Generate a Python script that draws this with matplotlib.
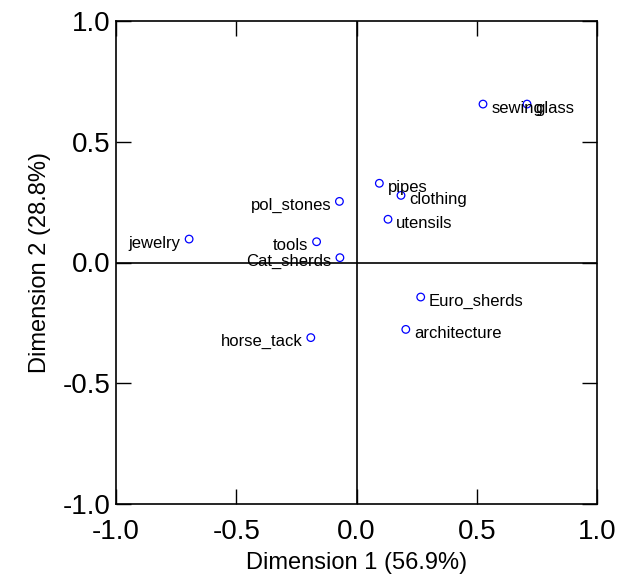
import matplotlib
matplotlib.use('Agg')
import matplotlib.pyplot as plt

# coordinates
labels = ['sewing', 'glass', 'pol_stones', 'jewelry', 'tools', 'Cat_sherds', 'horse_tack',
          'pipes', 'clothing', 'utensils', 'Euro_sherds', 'architecture']
dim1 = [0.526, 0.709, -0.071, -0.696, -0.166, -0.069, -0.190, 0.095, 0.185, 0.131, 0.267, 0.205]
dim2 = [0.656, 0.656, 0.253, 0.097, 0.086, 0.020, -0.311, 0.328, 0.278, 0.179, -0.143, -0.277]
side = ['r', 'r', 'l', 'l', 'l', 'l', 'l', 'r', 'r', 'r', 'r', 'r']

ticks = [-1.0, -0.5, 0.0, 0.5, 1.0]

plt.rcParams['font.family'] = 'Liberation Sans'

fig = plt.figure(figsize=(6.23, 5.86), dpi=100)
ax = fig.add_axes([116 / 623, 82 / 586, 481 / 623, 483 / 586])

ax.axhline(0, color='black', lw=1.2)
ax.axvline(0, color='black', lw=1.2)

ax.scatter(dim1, dim2, s=30, facecolors='none', edgecolors='blue', linewidths=0.9, zorder=3)
for x, y, t, s in zip(dim1, dim2, labels, side):
    if s == 'r':
        ax.annotate(t, (x, y), xytext=(6, -3), textcoords='offset points', ha='left', va='center', fontsize=12)
    else:
        ax.annotate(t, (x, y), xytext=(-6, -3), textcoords='offset points', ha='right', va='center', fontsize=12)

ax.set_xlim(-1, 1)
ax.set_ylim(-1, 1)
ax.set_xticks(ticks)
ax.set_yticks(ticks)
ax.set_xticklabels([f'{t:.1f}' for t in ticks], fontsize=20)
ax.set_yticklabels([f'{t:.1f}' for t in ticks], fontsize=20)
ax.tick_params(direction='in', length=10.5, width=1, top=True, right=True, pad=4)
ax.tick_params(axis='x', pad=11)

ax.set_xlabel('Dimension 1 (56.9%)', fontsize=17, labelpad=5)
ax.set_ylabel('Dimension 2 (28.8%)', fontsize=17, labelpad=8)

for sp in ax.spines.values():
    sp.set_linewidth(1.2)

fig.savefig('out.png', dpi=100)
